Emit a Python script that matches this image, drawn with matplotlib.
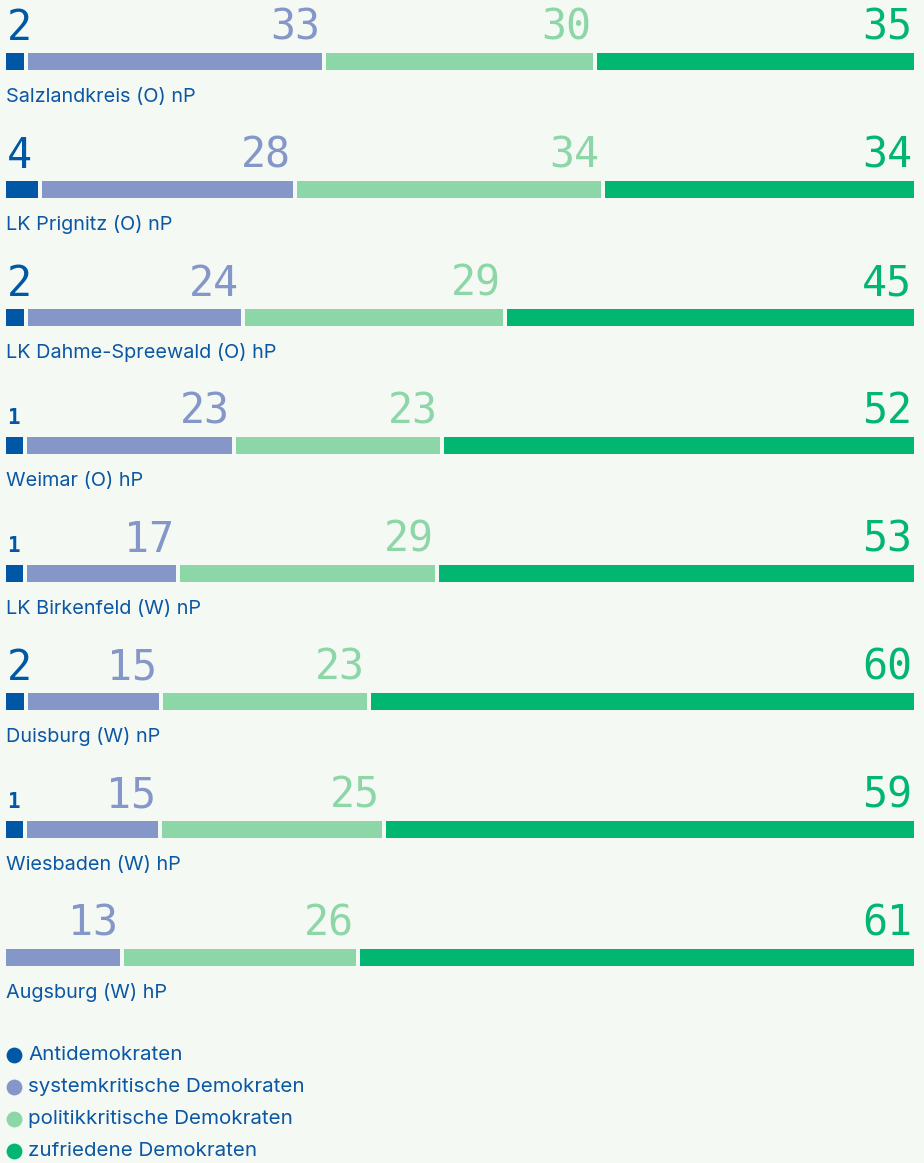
import matplotlib.pyplot as plt

# Daten
regionen = ['Salzlandkreis (O) nP', 'LK Prignitz (O) nP', 'LK Dahme-Spreewald (O) hP',
            'Weimar (O) hP', 'LK Birkenfeld (W) nP', 'Duisburg (W) nP',
            'Wiesbaden (W) hP', 'Augsburg (W) hP']
antidemokraten = [2, 4, 2, 1, 1, 2, 1, 0]
systemkritisch = [33, 28, 24, 23, 17, 15, 15, 13]
politikkritisch = [30, 34, 29, 23, 29, 23, 25, 26]
zufrieden = [35, 34, 45, 52, 53, 60, 59, 61]

gruppen = ['Antidemokraten', 'systemkritische Demokraten',
           'politikkritische Demokraten', 'zufriedene Demokraten']
farben = ['#0057a6', '#8597c8', '#8dd6a8', '#00b670']
bg = '#f5f9f3'
textfarbe = '#0b57a4'

W, H = 924, 1163
fig = plt.figure(figsize=(W / 100, H / 100), dpi=100, facecolor=bg)
ax = fig.add_axes([0, 0, 1, 1], facecolor=bg)
# x: 0..100 liegt zwischen Pixel 6 und 914, y in Pixeln von oben
px = 908 / 100
ax.set_xlim(-6 / px, 100 + 10 / px)
ax.set_ylim(H, 0)
ax.axis('off')

gap = 4 / px
mindest = 2.4  # kleine Segmente bleiben sichtbar
pitch = 128
serien = [antidemokraten, systemkritisch, politikkritisch, zufrieden]

for i, name in enumerate(regionen):
    y0 = i * pitch
    werte = [s[i] for s in serien]
    summe = sum(werte)
    anteile = [0 if v == 0 else max(v / summe * 100, mindest) for v in werte]
    norm = sum(anteile)
    anteile = [a / norm * 100 for a in anteile]
    left = 0
    for j, v in enumerate(werte):
        if v == 0:
            continue
        last = j == len(werte) - 1
        w = anteile[j] if last else anteile[j] - gap
        ax.barh(y0 + 61.3, w, left=left, height=16.5, color=farben[j], linewidth=0)
        if j == 0:
            # schmales erstes Segment: Zahl linksbündig am Balkenanfang
            xt, ha = 1 / px, 'left'
        else:
            xt, ha = left + w - 2 / px, 'right'
        if v == 1:
            ax.text(xt, y0 + 40, str(v), ha=ha, va='baseline', color=farben[j],
                    fontsize=15, fontweight='bold', family='DejaVu Sans Mono')
        else:
            ax.text(xt, y0 + 40, str(v), ha=ha, va='baseline', color=farben[j],
                    fontsize=30, family='DejaVu Sans Mono')
        left += anteile[j]
    ax.text(0, y0 + 102, name, ha='left', va='baseline', color=textfarbe,
            fontsize=14.3, family='Inter')

# Legende
for k, g in enumerate(gruppen):
    yl = 1055 + k * 32
    ax.scatter([8 / px], [yl], s=130, color=farben[k], linewidths=0)
    ax.text(22 / px, yl, g, ha='left', va='center', color=textfarbe,
            fontsize=14.8, family='Inter')

fig.savefig('out.png', dpi=100, facecolor=bg)
